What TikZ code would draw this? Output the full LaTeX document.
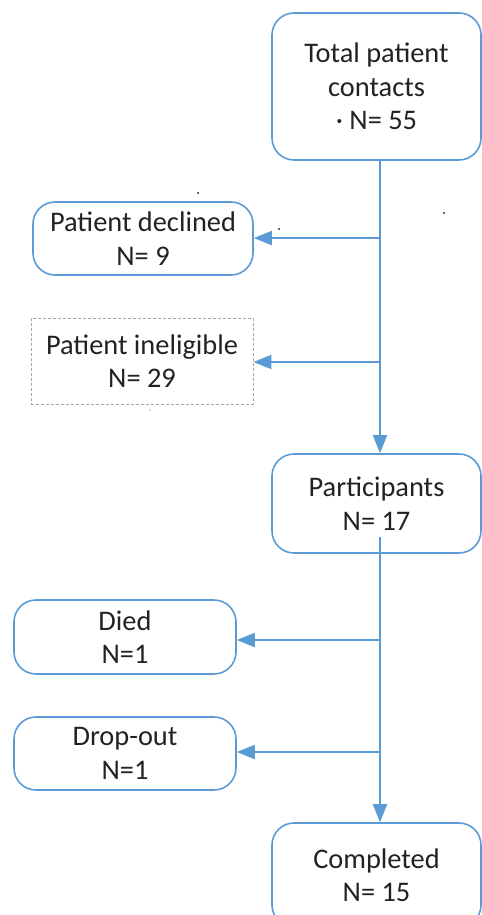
\documentclass[tikz,border=0pt]{standalone}
\usepackage{fontspec}
\setmainfont{Carlito}
\usetikzlibrary{arrows.meta}
\definecolor{flowblue}{HTML}{5B9BD5}
\definecolor{txt}{HTML}{222222}
\definecolor{dashgray}{HTML}{A6A6A6}
\tikzset{
  box/.style={draw=flowblue, line width=1.6bp, rounded corners=22bp, align=center,
    text=txt, font=\fontsize{28.5}{33.5}\selectfont, inner sep=0pt},
  dbox/.style={draw=dashgray, line width=0.9bp, dash pattern=on 3bp off 2bp, align=center,
    text=txt, font=\fontsize{28.5}{33.5}\selectfont, inner sep=0pt},
  conn/.style={draw=flowblue, line width=2bp},
  arr/.style={conn, -{Triangle[length=18bp,width=14bp]}},
  speck/.style={fill=black!80, draw=none}
}
\begin{document}
\begin{tikzpicture}[x=1bp,y=-1bp]
\useasboundingbox (0,0) rectangle (482,915);
\clip (0,0) rectangle (482,915);
\node[box, minimum width=209bp, minimum height=147bp] (total) at (376.5,86.5) {Total patient\\contacts\\· N= 55};
\node[box, minimum width=220bp, minimum height=73bp] (declined) at (143,238.5) {Patient declined\\N= 9};
\node[dbox, minimum width=222bp, minimum height=86bp] (inelig) at (142,361) {Patient ineligible\\N= 29};
\node[box, minimum width=209bp, minimum height=99bp] (part) at (376.5,503.5) {Participants\\N= 17};
\node[box, minimum width=222bp, minimum height=74bp] (died) at (125,637) {Died\\N=1};
\node[box, minimum width=222bp, minimum height=73bp] (drop) at (125,753.5) {Drop-out\\N=1};
\node[box, minimum width=209bp, minimum height=104bp] (comp) at (376.5,875) {Completed\\N= 15};
\coordinate (s1) at (380,238);
\coordinate (s2) at (380,362);
\coordinate (s3) at (380,640);
\coordinate (s4) at (380,752);
\coordinate (pstart) at (380,537);
\draw[arr] (total.south -| s1) -- (part.north -| s1);
\draw[arr] (s1) -- (declined.east |- s1);
\draw[arr] (s2) -- (inelig.east |- s2);
\draw[arr] (pstart) -- (comp.north -| pstart);
\draw[arr] (s3) -- (died.east |- s3);
\draw[arr] (s4) -- (drop.east |- s4);
\fill[speck] (198,193) circle (1.1);
\fill[speck] (279,229) circle (1.1);
\fill[speck] (444,213) circle (1.1);
\fill[black!30] (150,410) circle (0.9);
\end{tikzpicture}
\end{document}
